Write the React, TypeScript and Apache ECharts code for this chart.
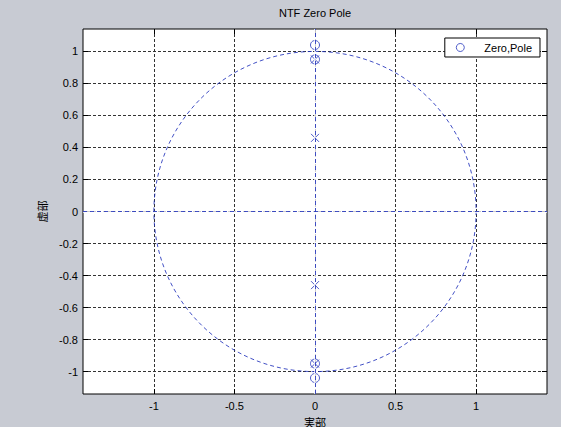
import React, { useEffect, useRef } from 'react';
import * as echarts from 'echarts';

const chartTitle = 'NTF Zero Pole';
const xAxisName = '実部';
const yAxisName = '虚部';
const legendName = 'Zero,Pole';
const xRange = [-1.44, 1.44];
const yRange = [-1.14, 1.14];
const xTicks = [-1, -0.5, 0, 0.5, 1];
const yTicks = [-1, -0.8, -0.6, -0.4, -0.2, 0, 0.2, 0.4, 0.6, 0.8, 1];
const zeros = [[0, 1.04], [0, 0.95], [0, -0.95], [0, -1.04]];
const poles = [[0, 0.95], [0, 0.46], [0, -0.46], [0, -0.95]];
// centre x, centre y, radius
const unitCircle = [[0, 0, 1]];

const BLUE = '#2233bb';
const FONT = "'Liberation Sans', 'Noto Sans CJK JP', sans-serif";

export default function App() {
  const ref = useRef<HTMLDivElement>(null);
  useEffect(() => {
    if (!ref.current) return;
    const chart = echarts.init(ref.current, undefined, { renderer: 'svg' });
    const tickCommon = { show: true, inside: true, length: 5, lineStyle: { color: '#000', width: 1 } };
    const white = { lineStyle: { color: '#fff', type: 'solid', width: 1.5, opacity: 1 } };
    const option: any = {
      animation: false,
      backgroundColor: '#c8cbd3',
      textStyle: { fontFamily: FONT },
      grid: {
        left: 83, top: 29, right: 14, bottom: 33,
        outerBoundsMode: 'none', containLabel: false,
        show: true, backgroundColor: '#ffffff', borderColor: '#000', borderWidth: 1,
      },
      graphic: [
        {
          type: 'text', x: 315, y: 13, silent: true,
          style: { text: chartTitle, align: 'center', verticalAlign: 'middle', fontSize: 11, fontFamily: FONT, fill: '#000' },
        },
      ],
      legend: {
        data: [{ name: legendName }],
        right: 21, top: 38,
        orient: 'vertical',
        backgroundColor: '#fff', borderColor: '#000', borderWidth: 1, borderRadius: 0,
        padding: [4, 8, 4, 11],
        itemWidth: 38, itemHeight: 8,
        itemStyle: { color: 'rgba(255,255,255,0)', borderColor: BLUE, borderWidth: 1 },
        textStyle: { fontSize: 11, color: '#000', fontFamily: FONT },
      },
      xAxis: [
        {
          type: 'value', min: xRange[0], max: xRange[1],
          name: xAxisName, nameLocation: 'middle', nameGap: 23,
          nameTextStyle: { fontSize: 11, color: '#000', fontFamily: FONT },
          axisLine: { show: false, onZero: false },
          axisTick: { ...tickCommon, customValues: xTicks },
          axisLabel: { customValues: xTicks, fontSize: 11, color: '#000', margin: 6, formatter: (v: number) => String(v) },
          splitLine: { show: true, lineStyle: { color: '#333', type: [3, 2], width: 1 } },
        },
        {
          type: 'value', min: xRange[0], max: xRange[1], position: 'top',
          axisLine: { show: false, onZero: false },
          axisTick: { ...tickCommon, customValues: xTicks },
          axisLabel: { show: false },
          splitLine: { show: false },
        },
      ],
      yAxis: [
        {
          type: 'value', min: yRange[0], max: yRange[1],
          name: yAxisName, nameLocation: 'middle', nameGap: 31,
          nameTextStyle: { fontSize: 11, color: '#000', fontFamily: FONT },
          axisLine: { show: false, onZero: false },
          axisTick: { ...tickCommon, customValues: yTicks },
          axisLabel: { customValues: yTicks, fontSize: 11, color: '#000', margin: 5, formatter: (v: number) => String(v) },
          splitLine: { show: true, lineStyle: { color: '#333', type: [3, 2], width: 1 } },
        },
        {
          type: 'value', min: yRange[0], max: yRange[1], position: 'right',
          axisLine: { show: false, onZero: false },
          axisTick: { ...tickCommon, customValues: yTicks },
          axisLabel: { show: false },
          splitLine: { show: false },
        },
      ],
      series: [
        {
          type: 'custom',
          name: 'unit',
          data: unitCircle,
          encode: { x: 0, y: 1 },
          silent: true,
          z: 2,
          renderItem: (params: any, api: any) => {
            const c = api.coord([api.value(0), api.value(1)]);
            const r = api.value(2);
            const s = api.size([r, r]);
            return {
              type: 'ellipse',
              shape: { cx: c[0], cy: c[1], rx: s[0], ry: s[1] },
              style: { fill: 'none', stroke: BLUE, lineWidth: 1, lineDash: [4, 3], opacity: 0.85 },
            };
          },
          markLine: {
            silent: true, symbol: 'none', label: { show: false },
            data: [{ xAxis: 0, ...white }, { yAxis: 0, ...white }],
          },
        },
        {
          type: 'scatter',
          name: legendName,
          data: zeros,
          symbol: 'circle',
          symbolSize: 9,
          itemStyle: { color: 'rgba(255,255,255,0)', borderColor: BLUE, borderWidth: 1 },
          z: 3,
          markLine: {
            silent: true, symbol: 'none', label: { show: false },
            lineStyle: { color: BLUE, type: [4, 3], width: 1, opacity: 0.85 },
            data: [{ xAxis: 0 }, { yAxis: 0 }],
          },
        },
        {
          type: 'scatter',
          name: 'Pole',
          data: poles,
          symbol: 'path://M0,0L10,10M10,0L0,10',
          symbolSize: 8,
          itemStyle: { color: 'none', borderColor: BLUE, borderWidth: 1 },
          z: 4,
        },
      ],
    };
    chart.setOption(option);
    return () => chart.dispose();
  }, []);
  return <div ref={ref} style={{ position: 'fixed', left: 0, top: 0, width: 561, height: 427 }} />;
}
